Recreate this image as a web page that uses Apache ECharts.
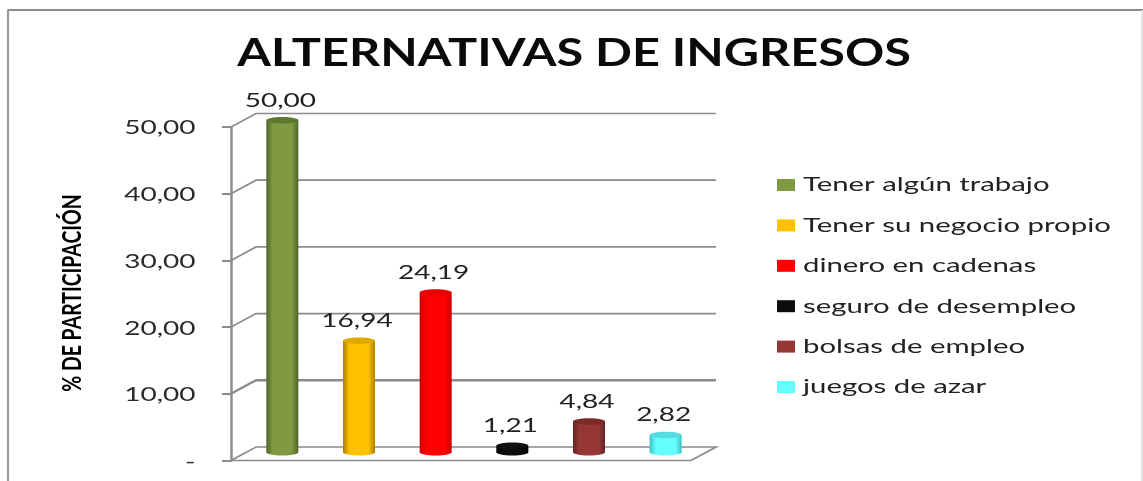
<!DOCTYPE html>
<html><head><meta charset="utf-8">
<style>html,body{margin:0;padding:0;background:#fff}#c{width:1143px;height:481px}</style>
<script src="https://cdn.jsdelivr.net/npm/echarts@6/dist/echarts.min.js"></script>
</head><body><div id="c"></div>
<script>
const categories = ['Tener algún trabajo','Tener su negocio propio','dinero en cadenas','seguro de desempleo','bolsas de empleo','juegos de azar'];
const values = [50.00,16.94,24.19,1.21,4.84,2.82];
const valueLabels = ['50,00','16,94','24,19','1,21','4,84','2,82'];
const tickValues = [0,10,20,30,40,50];
const tickLabels = ['-','10,00','20,00','30,00','40,00','50,00'];
const colors = ['#7f9a42','#ffc000','#ff0000','#0d0d0d','#953735','#66ffff'];
const shades = ['#4f6228','#a88000','#c80000','#000000','#632523','#38c4c8'];
const topColors = ['#5f7830','#e0a800','#e60000','#111111','#7a2b29','#55dbe0'];
const titleText = 'ALTERNATIVAS DE INGRESOS';
const yTitle = '% DE PARTICIPACIÓN';

const DEPTH_X = 25, DEPTH_Y = -13.5, BAR_W = 32, RY = 3.2, STRETCH = 1.4, LEGEND_STRETCH = 1.467;
const chart = echarts.init(document.getElementById('c'));
const font = 'Lato';
const LINE = '#8c8c8c';

const stretched = (text,x,y,size,fill,align,sx) => ({
  type:'text',x,y,scaleX:sx||STRETCH,
  style:{text,x:0,y:0,align:align||'center',verticalAlign:'middle',font:`${size}px ${font}`,fill}
});

chart.setOption({
  animation:false,
  backgroundColor:'#fff',
  grid:{left:231,top:127,width:460,height:333.5},
  xAxis:{type:'category',data:categories,show:false},
  yAxis:{type:'value',min:0,max:50,interval:10,
    axisLine:{show:true,lineStyle:{color:LINE,width:2.5}},
    axisTick:{show:true,length:9,lineStyle:{color:LINE,width:2}},
    axisLabel:{show:false},
    splitLine:{show:false}},
  series:[
    {type:'custom',name:'wall',silent:true,z:1,
     data:tickValues.map(v=>[0,v]),
     encode:{y:1},
     renderItem:(p,api)=>{
       const v=api.value(1), a=api.coord([0,v]);
       const w=api.size([1,0])[0], left=a[0]-w/2, right=left+w*categories.length, y=a[1];
       const pts=v===0
         ? [[right,y],[right+DEPTH_X,y+DEPTH_Y],[left+DEPTH_X,y+DEPTH_Y],[left,y],[right,y]]
         : [[left,y],[left+DEPTH_X,y+DEPTH_Y],[right+DEPTH_X,y+DEPTH_Y]];
       return {type:'group',children:[
         {type:'polyline',shape:{points:pts},style:{stroke:LINE,lineWidth:v===10?2.4:1.7,fill:null}},
         stretched(tickLabels[tickValues.indexOf(v)],195.5,y+1,20,'#2a2a2a','right')
       ]};
     }},
    ...categories.map((name,i)=>({
      type:'custom',name,z:3,
      itemStyle:{color:colors[i]},
      data:[[i,values[i]]],
      encode:{x:0,y:1},
      renderItem:(p,api)=>{
        const top=api.coord([i,values[i]]), base=api.coord([i,0]);
        const cx=top[0]+DEPTH_X/2+0.5, yt=top[1]+DEPTH_Y/2, yb=base[1]+DEPTH_Y/2-1.5;
        const x0=cx-BAR_W/2;
        const grad=new echarts.graphic.LinearGradient(0,0,1,0,[
          {offset:0,color:shades[i]},{offset:0.2,color:colors[i]},
          {offset:0.8,color:colors[i]},{offset:1,color:shades[i]}]);
        return {type:'group',children:[
          {type:'ellipse',shape:{cx,cy:yb,rx:BAR_W/2,ry:RY},style:{fill:grad}},
          {type:'rect',shape:{x:x0,y:yt,width:BAR_W,height:yb-yt},style:{fill:grad}},
          {type:'ellipse',shape:{cx,cy:yt,rx:BAR_W/2,ry:RY},style:{fill:topColors[i]}},
          stretched(valueLabels[i],cx-2,yt-20,20,'#222')
        ]};
      }
    })),
    {type:'custom',name:'legendEntries',silent:true,z:4,
     data:categories.map((c,i)=>[i]),
     encode:{},
     renderItem:(p,api)=>{
       const i=api.value(0), y=185+i*40.4;
       return {type:'group',children:[
         {type:'rect',shape:{x:777,y:y-6,width:18,height:12},style:{fill:colors[i]}},
         stretched(categories[i],803,y,20,'#222','left',LEGEND_STRETCH)
       ]};
     }}
  ],
  graphic:[
    {type:'line',silent:true,z:10,shape:{x1:7.5,y1:10,x2:1143,y2:10},style:{stroke:'#8a8a8a',lineWidth:2.2}},
    {type:'line',silent:true,z:10,shape:{x1:8,y1:10,x2:8,y2:481},style:{stroke:'#9a9a9a',lineWidth:2.2}},
    {type:'line',silent:true,z:10,shape:{x1:1142,y1:10,x2:1142,y2:481},style:{stroke:'#dcdcdc',lineWidth:1.5}},
    {type:'text',silent:true,z:10,x:574,y:54,scaleX:1.28,
     style:{text:titleText,x:0,y:0,align:'center',verticalAlign:'middle',font:'bold 38px Lato',fill:'#0a0a0a'}},
    {type:'text',silent:true,z:10,x:72,y:293,rotation:Math.PI/2,scaleX:0.72,
     style:{text:yTitle,x:0,y:0,align:'center',verticalAlign:'middle',font:'bold 27px Lato',fill:'#000'}}
  ]
});
</script></body></html>
